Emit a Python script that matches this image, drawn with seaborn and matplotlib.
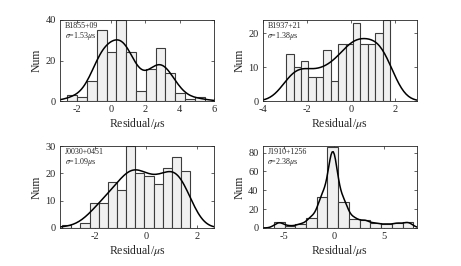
import numpy as np
import matplotlib
matplotlib.use("Agg")
import matplotlib.pyplot as plt
import seaborn as sns

# Residual histograms for four pulsars (counts per bin)
names = ["B1855+09", "B1937+21", "J0030+0451", "J1910+1256"]
sigmas = ["1.53", "1.38", "1.09", "2.38"]

b1855_start, b1855_width = -2.57, 0.574
b1855_counts = [3, 2, 10, 35, 24, 40, 24, 5, 16, 26, 14, 4, 1, 2]

b1937_start, b1937_width = -2.94, 0.338
b1937_counts = [14, 10, 12, 7, 7, 15, 6, 17, 17, 23, 17, 17, 20, 24]

j0030_start, j0030_width = -3.27, 0.357
j0030_counts = [1, 0, 2, 9, 9, 17, 14, 30, 20, 19, 16, 22, 26, 21]

j1910_start, j1910_width = -6.03, 1.074
j1910_counts = [6, 2, 4, 11, 33, 86, 28, 10, 8, 5, 4, 5, 6]

xlims = [(-3, 6), (-4, 3), (-3.36, 2.66), (-7.13, 8.27)]
ylims = [(0, 40), (0, 24), (0, 30), (0, 87)]
xticks = [[-2, 0, 2, 4, 6], [-4, -2, 0, 2], [-2, 0, 2], [-5, 0, 5]]
yticks = [[0, 20, 40], [0, 10, 20], [0, 10, 20, 30], [0, 20, 40, 60, 80]]
kde_bw = [0.6, 0.55, 0.47, 0.48]   # smoothing width of the curve, in us

sns.set_style("ticks")
plt.rcParams["font.family"] = ["Liberation Serif", "DejaVu Serif"]
plt.rcParams["mathtext.fontset"] = "stix"
plt.rcParams["axes.unicode_minus"] = False

fig = plt.figure(figsize=(4.61, 2.66), dpi=100)
rects = [
    [0.130, 0.620, 0.334, 0.305],
    [0.570, 0.620, 0.334, 0.305],
    [0.130, 0.143, 0.334, 0.308],
    [0.570, 0.143, 0.334, 0.308],
]

hists = [
    (b1855_start, b1855_width, b1855_counts),
    (b1937_start, b1937_width, b1937_counts),
    (j0030_start, j0030_width, j0030_counts),
    (j1910_start, j1910_width, j1910_counts),
]

for i, (start, width, counts) in enumerate(hists):
    ax = fig.add_axes(rects[i])
    edges = start + width * np.arange(len(counts) + 1)
    centers = (edges[:-1] + edges[1:]) / 2
    # gaussian_kde takes the factor relative to the weighted std
    wstd = np.sqrt(np.cov(centers, aweights=counts))
    sns.histplot(
        x=list(centers), weights=list(counts), bins=list(edges), kde=True, ax=ax,
        color="black", facecolor="#f0f0f0", edgecolor="#3c3c3c",
        linewidth=0.8, alpha=1,
        kde_kws=dict(bw_method=kde_bw[i] / wstd, cut=6),
        line_kws=dict(linewidth=1.1),
    )
    ax.lines[-1].set_color("black")
    ax.set_xlim(*xlims[i])
    ax.set_ylim(*ylims[i])
    ax.set_xticks(xticks[i])
    ax.set_yticks(yticks[i])
    ax.set_xlabel("Residual/$\\mu$s", fontsize=8.5, labelpad=1)
    ax.set_ylabel("Num", fontsize=8.5, labelpad=2)
    ax.tick_params(direction="in", length=2, width=0.5, labelsize=7.5,
                   top=True, right=True, pad=3, colors="#262626")
    for s in ax.spines.values():
        s.set_linewidth(0.6)
        s.set_color("#262626")
        s.set_visible(True)
    ax.text(0.03, 0.93, names[i], transform=ax.transAxes, fontsize=5.8,
            va="center", ha="left")
    ax.text(0.03, 0.80, "$\\sigma$=" + sigmas[i] + "$\\mu$s", transform=ax.transAxes,
            fontsize=5.8, va="center", ha="left")

fig.savefig("out.png", dpi=100)
